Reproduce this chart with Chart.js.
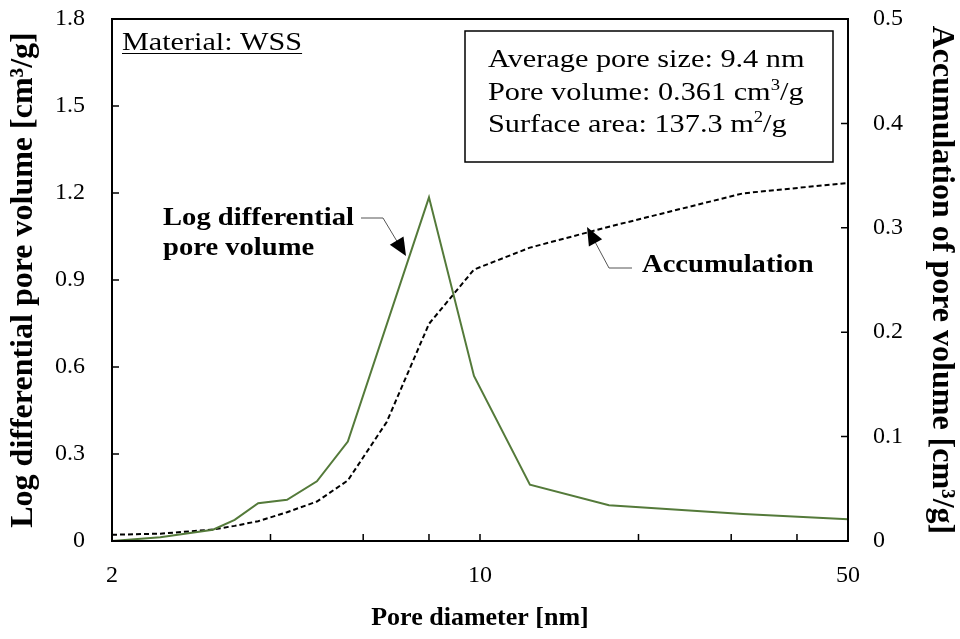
<!DOCTYPE html>
<html>
<head>
<meta charset="utf-8">
<script src="https://cdn.jsdelivr.net/npm/chart.js@4.4.0/dist/chart.umd.min.js"></script>
<style>
  html, body { margin: 0; padding: 0; background: #fff; }
  #wrap { width: 960px; height: 639px; }
</style>
</head>
<body>
<div id="wrap"><canvas id="poreChart" width="960" height="639"></canvas></div>
<script>
// pore diameter [nm] and log differential pore volume [cm3/g]
const poreDiameter = [2.0, 2.47, 3.11, 3.42, 3.79, 4.30, 4.90, 5.61, 8.0, 9.74, 12.44, 17.58, 31.6, 50];
const logDiffVolume = [0.0, 0.013, 0.039, 0.073, 0.130, 0.142, 0.206, 0.343, 1.185, 0.569, 0.194, 0.123, 0.093, 0.075];

// accumulation of pore volume [cm3/g]
const accumDiameter = [2.0, 2.47, 3.11, 3.42, 3.79, 4.30, 4.90, 5.61, 6.65, 8.0, 9.74, 12.44, 17.58, 31.6, 50];
const accumVolume = [0.006, 0.007, 0.011, 0.0145, 0.019, 0.0276, 0.0378, 0.058, 0.114, 0.208, 0.260, 0.281, 0.301, 0.333, 0.343];

const xTicks = [2, 4, 6, 8, 10, 20, 30, 40, 50];
const xLabeled = [2, 10, 50];

const SERIF = '"Liberation Serif", "Times New Roman", serif';
const green = 'rgb(84, 122, 58)';

function toPoints(xs, ys) {
    return xs.map((x, i) => ({ x: x, y: ys[i] }));
}

// texto (algo ensanchado) con superindices
function drawRich(ctx, parts, x, y, font, size, stretch) {
    ctx.save();
    ctx.translate(x, y);
    ctx.scale(stretch, 1);
    let cx = 0;
    parts.forEach(p => {
        if (p.sup) {
            ctx.font = font.replace('SIZE', Math.round(size * 0.62));
            ctx.fillText(p.t, cx, -size * 0.38);
        } else {
            ctx.font = font.replace('SIZE', size);
            ctx.fillText(p.t, cx, 0);
        }
        cx += ctx.measureText(p.t).width;
    });
    ctx.restore();
    return cx * stretch;
}

function arrowHead(ctx, fromX, fromY, tipX, tipY, len, half) {
    const a = Math.atan2(tipY - fromY, tipX - fromX);
    ctx.beginPath();
    ctx.moveTo(tipX, tipY);
    ctx.lineTo(tipX - len * Math.cos(a) + half * Math.sin(a), tipY - len * Math.sin(a) - half * Math.cos(a));
    ctx.lineTo(tipX - len * Math.cos(a) - half * Math.sin(a), tipY - len * Math.sin(a) + half * Math.cos(a));
    ctx.closePath();
    ctx.fill();
}

//  marco y marcas hacia adentro
const frameTicks = {
    id: 'frameTicks',
    afterDraw(chart) {
        const { ctx, chartArea: { top, right, bottom, left } } = chart;
        const sx = chart.scales.x, sy = chart.scales.y, sy2 = chart.scales.y2;
        ctx.save();
        ctx.strokeStyle = '#000';
        ctx.lineWidth = 2;
        ctx.strokeRect(left, top, right - left, bottom - top);
        ctx.lineWidth = 1.5;
        ctx.beginPath();
        xTicks.forEach(v => {
            const px = sx.getPixelForValue(v);
            ctx.moveTo(px, bottom);
            ctx.lineTo(px, bottom - 7);
        });
        sy.ticks.forEach(t => {
            const py = sy.getPixelForValue(t.value);
            ctx.moveTo(left, py);
            ctx.lineTo(left + 7, py);
        });
        sy2.ticks.forEach(t => {
            const py = sy2.getPixelForValue(t.value);
            ctx.moveTo(right, py);
            ctx.lineTo(right - 7, py);
        });
        ctx.stroke();
        ctx.restore();
    }
};

//  textos y flechas
const notes = {
    id: 'notes',
    afterDraw(chart) {
        const { ctx } = chart;
        const reg = 'SIZEpx ' + SERIF;
        const bold = 'bold SIZEpx ' + SERIF;
        ctx.save();
        ctx.fillStyle = '#000';
        ctx.strokeStyle = '#000';
        ctx.textBaseline = 'alphabetic';
        ctx.textAlign = 'left';

        // Material: WSS
        const mw = drawRich(ctx, [{ t: 'Material: WSS' }], 122, 50, reg, 26, 1.16);
        ctx.lineWidth = 1;
        ctx.beginPath();
        ctx.moveTo(122, 53.5);
        ctx.lineTo(122 + mw, 53.5);
        ctx.stroke();

        // recuadro
        ctx.lineWidth = 1.5;
        ctx.strokeRect(465, 31, 368, 131);
        drawRich(ctx, [{ t: 'Average pore size: 9.4 nm' }], 488, 67, reg, 26, 1.165);
        drawRich(ctx, [{ t: 'Pore volume: 0.361 cm' }, { t: '3', sup: true }, { t: '/g' }], 488, 100, reg, 26, 1.165);
        drawRich(ctx, [{ t: 'Surface area: 137.3 m' }, { t: '2', sup: true }, { t: '/g' }], 488, 132, reg, 26, 1.165);

        // Log differential pore volume
        drawRich(ctx, [{ t: 'Log differential' }], 163, 225, bold, 26, 1.1);
        drawRich(ctx, [{ t: 'pore volume' }], 163, 255, bold, 26, 1.1);
        ctx.lineWidth = 1;
        ctx.strokeStyle = '#555';
        ctx.beginPath();
        ctx.moveTo(361, 218);
        ctx.lineTo(383, 218);
        ctx.lineTo(398, 243);
        ctx.stroke();
        arrowHead(ctx, 383, 218, 406, 256, 18, 8);

        // Accumulation
        drawRich(ctx, [{ t: 'Accumulation' }], 642, 272, bold, 26, 1.1);
        ctx.beginPath();
        ctx.moveTo(632, 268);
        ctx.lineTo(609, 268);
        ctx.lineTo(594, 240);
        ctx.stroke();
        arrowHead(ctx, 609, 268, 587, 227, 18, 7.5);
        ctx.restore();
    }
};

const data = {
    datasets: [
        {
            label: 'Log differential pore volume',
            data: toPoints(poreDiameter, logDiffVolume),
            borderColor: green,
            borderWidth: 2,
            pointRadius: 0,
            tension: 0,
            yAxisID: 'y'
        },
        {
            label: 'Accumulation',
            data: toPoints(accumDiameter, accumVolume),
            borderColor: '#000',
            borderWidth: 2,
            borderDash: [5, 3],
            pointRadius: 0,
            tension: 0,
            yAxisID: 'y2'
        }
    ]
};

const tickFont = { family: SERIF, size: 24 };

function fitY(scale) {
    scale.width = 112;
    scale.paddingTop = 0;
    scale.paddingBottom = 0;
}

const config = {
    type: 'line',
    data: data,
    options: {
        responsive: false,
        animation: false,
        layout: { padding: { top: 19, left: 0, right: 0, bottom: 0 } },
        plugins: {
            legend: { display: false },
            tooltip: { enabled: false }
        },
        scales: {
            x: {
                type: 'logarithmic',
                min: 2,
                max: 50,
                afterBuildTicks(scale) {
                    scale.ticks = xTicks.map(v => ({ value: v }));
                },
                afterFit(scale) { scale.height = 98; },
                grid: { display: false, drawTicks: false },
                border: { display: false },
                ticks: {
                    color: '#000',
                    font: tickFont,
                    padding: 20,
                    maxRotation: 0,
                    autoSkip: false,
                    callback: v => xLabeled.includes(v) ? String(v) : ''
                },
                title: {
                    display: true,
                    text: 'Pore diameter [nm]',
                    color: '#000',
                    font: { family: SERIF, size: 26, weight: 'bold' },
                    padding: { top: 0, bottom: 5 }
                }
            },
            y: {
                position: 'left',
                min: 0,
                max: 1.8,
                afterFit: fitY,
                grid: { display: false, drawTicks: false },
                border: { display: false },
                ticks: {
                    stepSize: 0.3,
                    color: '#000',
                    font: tickFont,
                    padding: 27,
                    callback: v => v === 0 ? '0' : v.toFixed(1)
                },
                title: {
                    display: true,
                    text: 'Log differential pore volume [cm³/g]',
                    color: '#000',
                    font: { family: SERIF, size: 32, weight: 'bold' },
                    padding: { top: 5, bottom: 0 }
                }
            },
            y2: {
                position: 'right',
                min: 0,
                max: 0.5,
                afterFit: fitY,
                grid: { display: false, drawTicks: false },
                border: { display: false },
                ticks: {
                    stepSize: 0.1,
                    color: '#000',
                    font: tickFont,
                    padding: 25,
                    callback: v => v === 0 ? '0' : v.toFixed(1)
                },
                title: {
                    display: true,
                    text: 'Accumulation of pore volume [cm³/g]',
                    color: '#000',
                    font: { family: SERIF, size: 32, weight: 'bold' },
                    padding: { top: 0, bottom: 0 }
                }
            }
        }
    },
    plugins: [frameTicks, notes]
};

new Chart(document.getElementById('poreChart'), config);
</script>
</body>
</html>
